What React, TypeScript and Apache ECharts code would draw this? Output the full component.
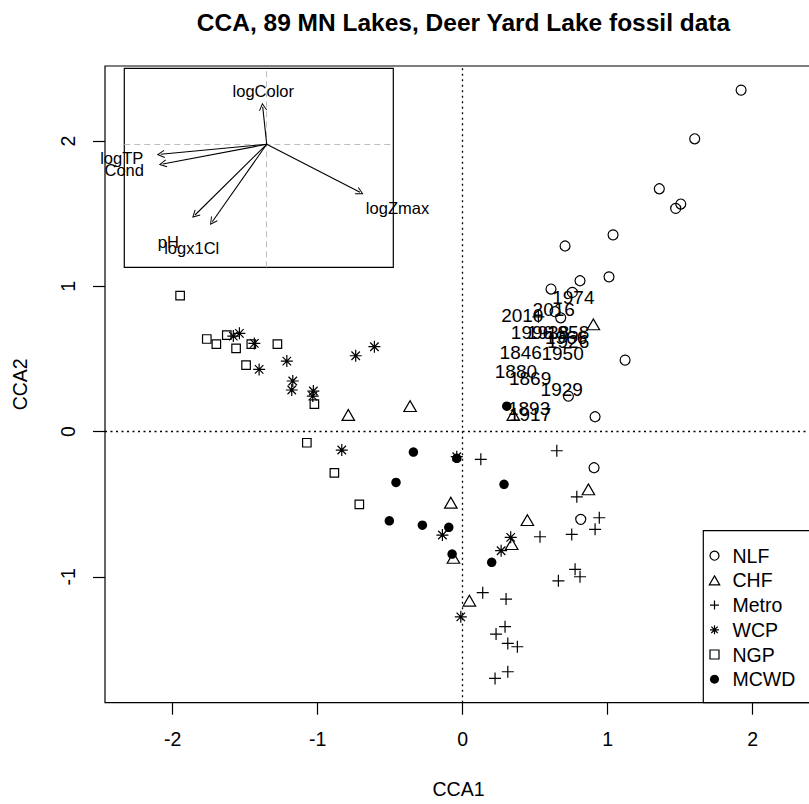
import React, { useEffect, useRef } from 'react';
import * as echarts from 'echarts';

const FONT = '"Liberation Sans", Arial, Helvetica, sans-serif';

const groups = ['NLF', 'CHF', 'Metro', 'WCP', 'NGP', 'MCWD'];

const nlfX = [1.921, 1.601, 1.357, 1.470, 1.505, 1.038, 1.010, 0.707, 0.610, 0.810, 0.757, 0.638, 0.677, 0.730, 0.914, 1.121, 0.907, 0.815];
const nlfY = [2.350, 2.015, 1.671, 1.536, 1.566, 1.354, 1.065, 1.277, 0.981, 1.038, 0.958, 0.825, 0.783, 0.244, 0.102, 0.492, -0.249, -0.604];

const chfX = [0.902, -0.788, -0.362, -0.081, 0.868, 0.447, 0.339, -0.063, 0.047, 0.350];
const chfY = [0.738, 0.114, 0.175, -0.490, -0.398, -0.609, -0.774, -0.869, -1.164, 0.114];

const metroX = [0.650, 0.126, 0.788, 0.943, 0.914, 0.753, 0.534, 0.776, 0.810, 0.661, 0.139, 0.300, 0.293, 0.231, 0.312, 0.378, 0.312, 0.224, 0.523];
const metroY = [-0.132, -0.191, -0.449, -0.593, -0.673, -0.708, -0.724, -0.948, -0.999, -1.027, -1.109, -1.153, -1.343, -1.394, -1.458, -1.481, -1.653, -1.699, 0.790];

const wcpX = [-1.581, -1.539, -1.436, -1.403, -1.212, -1.171, -1.178, -1.029, -1.033, -0.737, -0.608, -0.833, -0.139, -0.040, 0.332, 0.266, -0.012];
const wcpY = [0.657, 0.676, 0.607, 0.428, 0.485, 0.348, 0.286, 0.279, 0.244, 0.522, 0.584, -0.127, -0.712, -0.173, -0.728, -0.820, -1.275];

const ngpX = [-1.948, -1.764, -1.698, -1.626, -1.562, -1.457, -1.277, -1.493, -1.022, -1.074, -0.884, -0.712];
const ngpY = [0.935, 0.637, 0.602, 0.664, 0.573, 0.602, 0.602, 0.458, 0.189, -0.077, -0.284, -0.501];

const mcwdX = [-0.339, -0.040, -0.459, -0.505, -0.277, -0.095, -0.072, 0.286, 0.201, 0.305];
const mcwdY = [-0.141, -0.184, -0.350, -0.614, -0.644, -0.659, -0.843, -0.363, -0.900, 0.175];

const yearLabels = ['1974', '2016', '2010', '1996', '1938', '1958', '1966', '1926', '1846', '1950', '1880', '1869', '1929', '1893', '1917'];
const yearX = [0.764, 0.629, 0.412, 0.479, 0.590, 0.728, 0.714, 0.728, 0.401, 0.690, 0.368, 0.466, 0.684, 0.459, 0.466];
const yearY = [0.921, 0.841, 0.797, 0.681, 0.681, 0.681, 0.650, 0.623, 0.545, 0.538, 0.412, 0.366, 0.292, 0.160, 0.118];

const envNames = ['logColor', 'logTP', 'Cond', 'pH', 'logx1Cl', 'logZmax'];
const envX = [-0.040, -1.060, -1.040, -0.717, -0.544, 0.933];
const envY = [0.376, -0.100, -0.197, -0.707, -0.774, -0.480];
const envLabelX = [-0.034, -1.450, -1.425, -0.984, -0.750, 1.308];
const envLabelY = [0.533, -0.140, -0.257, -0.974, -1.040, -0.637];

const xTicks = [-2, -1, 0, 1, 2];
const yTicks = [-1, 0, 1, 2];

const TRI = 'path://M5,0L10,8.66L0,8.66Z';
const PLUS = 'path://M0,5L10,5M5,0L5,10';
const STAR = 'path://M0,5L10,5M5,0L5,10M1.46,1.46L8.54,8.54M1.46,8.54L8.54,1.46';
const SQ = 'path://M0,0L10,0L10,10L0,10Z';
const ARROW = 'path://M50,0L100,87L89.6,93L50,24L10.4,93L0,87Z';

const pts = (xs: number[], ys: number[]) => xs.map((x, i) => [x, ys[i]]);

export default function App() {
  const ref = useRef<HTMLDivElement>(null);
  useEffect(() => {
    if (!ref.current) return;
    const chart = echarts.init(ref.current, null, { renderer: 'svg' });
    const hollow = { color: 'transparent', borderColor: '#000', borderWidth: 1.2, opacity: 1 };
    const filled = { color: '#000', borderColor: '#000', borderWidth: 0, opacity: 1 };
    const mk = (name: string, xs: number[], ys: number[], symbol: string, size: any, style: any) => ({
      type: 'scatter',
      name,
      data: pts(xs, ys),
      symbol,
      symbolSize: size,
      itemStyle: style,
      xAxisIndex: 0,
      yAxisIndex: 0,
      silent: true,
      z: 4,
    });
    const txt = { fontFamily: FONT, color: '#000' };
    const LX = 703.3, LT = 530.7, LB = 702.7, LR = 860;
    const option: any = {
      animation: false,
      backgroundColor: '#fff',
      title: {
        text: 'CCA, 89 MN Lakes, Deer Yard Lake fossil data',
        left: 458.5,
        top: 5,
        textAlign: 'center',
        textStyle: { ...txt, fontSize: 24.5, fontWeight: 'bold' },
      },
      graphic: [
        {
          type: 'polyline',
          z: 3,
          silent: true,
          shape: { points: [[LR, LT], [LX, LT], [LX, LB], [LR, LB]] },
          style: { fill: '#fff', stroke: '#000', lineWidth: 1.2 },
        },
      ],
      grid: [
        { left: 105, top: 66, width: 707, height: 636.7, show: true, borderColor: '#000', borderWidth: 1.2, backgroundColor: 'transparent', containLabel: false, outerBoundsMode: 'none' },
        { left: 124.3, top: 68.3, width: 269, height: 199, show: true, borderColor: '#000', borderWidth: 1.2, backgroundColor: '#fff', containLabel: false, outerBoundsMode: 'none' },
      ],
      xAxis: [
        {
          type: 'value', gridIndex: 0, min: -2.466, max: 2.410, position: 'bottom',
          axisLine: { show: false, onZero: false },
          axisTick: { show: true, customValues: xTicks, length: 12, lineStyle: { color: '#000', width: 1.2 } },
          axisLabel: { customValues: xTicks, margin: 26, fontSize: 19.5, ...txt },
          splitLine: { show: false },
          name: 'CCA1', nameLocation: 'middle', nameGap: 76,
          nameTextStyle: { fontSize: 19.5, ...txt },
        },
        { type: 'value', gridIndex: 1, min: -1.424, max: 1.266, show: false, splitLine: { show: false } },
      ],
      yAxis: [
        {
          type: 'value', gridIndex: 0, min: -1.866, max: 2.516, position: 'left',
          axisLine: { show: false, onZero: false },
          axisTick: { show: true, customValues: yTicks, length: 12, lineStyle: { color: '#000', width: 1.2 } },
          axisLabel: { customValues: yTicks, margin: 27, rotate: 90, fontSize: 19.5, ...txt },
          splitLine: { show: false },
          name: 'CCA2', nameLocation: 'middle', nameGap: 75,
          nameTextStyle: { fontSize: 19.5, ...txt },
        },
        { type: 'value', gridIndex: 1, min: -1.23, max: 0.76, show: false, splitLine: { show: false } },
      ],
      legend: {
        orient: 'vertical',
        left: LX,
        top: LT,
        z: 5,
        itemWidth: 26,
        itemHeight: 9,
        itemGap: 4.7,
        padding: [15, 0, 14, 5.4],
        borderWidth: 0,
        backgroundColor: 'transparent',
        selectedMode: false,
        textStyle: { fontSize: 19.5, lineHeight: 20, ...txt },
        data: [
          { name: 'NLF', icon: 'circle', itemStyle: hollow },
          { name: 'CHF', icon: TRI, itemStyle: hollow },
          { name: 'Metro', icon: PLUS, itemStyle: hollow },
          { name: 'WCP', icon: STAR, itemStyle: hollow },
          { name: 'NGP', icon: SQ, itemStyle: hollow },
          { name: 'MCWD', icon: 'circle', itemStyle: filled },
        ],
      },
      series: [
        mk('NLF', nlfX, nlfY, 'circle', 10, hollow),
        mk('CHF', chfX, chfY, TRI, [12.5, 10.8], hollow),
        mk('Metro', metroX, metroY, PLUS, 12, hollow),
        mk('WCP', wcpX, wcpY, STAR, 12, hollow),
        mk('NGP', ngpX, ngpY, SQ, 8.5, hollow),
        mk('MCWD', mcwdX, mcwdY, 'circle', 9.5, filled),
        {
          type: 'scatter',
          name: '_years',
          xAxisIndex: 0,
          yAxisIndex: 0,
          data: yearLabels.map((n, i) => ({ name: n, value: [yearX[i], yearY[i]] })),
          symbolSize: 1,
          itemStyle: { color: 'transparent', opacity: 1 },
          label: { show: true, position: 'inside', formatter: '{b}', fontSize: 19, opacity: 1, ...txt },
          silent: true,
          z: 5,
          markLine: {
            silent: true,
            symbol: 'none',
            label: { show: false },
            lineStyle: { color: '#000', type: [2, 3.5], width: 1.3, opacity: 1 },
            data: [{ xAxis: 0 }, { yAxis: 0 }],
          },
        },
        {
          type: 'scatter',
          name: '_envlabels',
          xAxisIndex: 1,
          yAxisIndex: 1,
          data: envNames.map((n, i) => ({ name: n, value: [envLabelX[i], envLabelY[i]] })),
          symbolSize: 1,
          itemStyle: { color: 'transparent', opacity: 1 },
          label: { show: true, position: 'inside', formatter: '{b}', fontSize: 16.5, opacity: 1, ...txt },
          clip: false,
          silent: true,
          z: 6,
          markLine: {
            silent: true,
            symbol: 'none',
            label: { show: false },
            lineStyle: { color: '#bebebe', type: [6, 4], width: 1, opacity: 1 },
            data: [{ xAxis: 0 }, { yAxis: 0 }],
          },
        },
        {
          type: 'lines',
          name: '_arrows',
          coordinateSystem: 'cartesian2d',
          xAxisIndex: 1,
          yAxisIndex: 1,
          data: envNames.map((n, i) => ({ name: n, coords: [[0, 0], [envX[i], envY[i]]] })),
          symbol: ['none', ARROW],
          symbolSize: 8,
          lineStyle: { color: '#000', width: 1.1, opacity: 1 },
          silent: true,
          z: 7,
        },
      ],
    };
    chart.setOption(option);
    return () => chart.dispose();
  }, []);
  return <div ref={ref} style={{ width: 809, height: 804, position: 'absolute', left: 0, top: 0 }} />;
}
